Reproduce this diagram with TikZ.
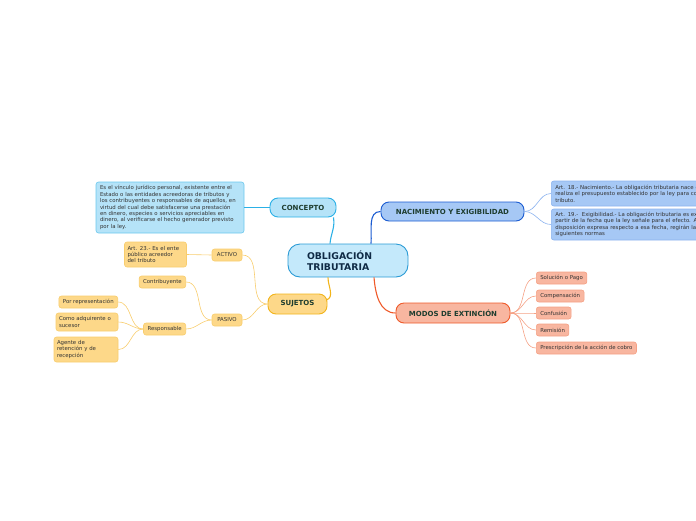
\documentclass[tikz,border=0pt]{standalone}
\usepackage{fontspec}
\setmainfont{DejaVu Sans}
\usetikzlibrary{calc}
\definecolor{cfill}{HTML}{C4E9FB}
\definecolor{cdraw}{HTML}{2A9BD5}
\definecolor{kfill}{HTML}{B5E3F8}
\definecolor{kdraw}{HTML}{2BB0E6}
\definecolor{nfill}{HTML}{A6C8F5}
\definecolor{ndraw}{HTML}{1B5CD1}
\definecolor{nsub}{HTML}{8CB3EF}
\definecolor{mfill}{HTML}{F8B6A0}
\definecolor{mdraw}{HTML}{EF5A2A}
\definecolor{msub}{HTML}{F5A185}
\definecolor{sfill}{HTML}{FDD889}
\definecolor{sdraw}{HTML}{F2B41B}
\definecolor{ssub}{HTML}{F8CD6D}
\definecolor{lbl}{HTML}{1E3D2F}
\definecolor{ctr}{HTML}{0F2A45}
\definecolor{txt}{HTML}{333333}
\tikzset{
  mainbox/.style={draw, line width=0.9pt, rounded corners=8pt, inner sep=0pt, text=lbl,
    font=\fontsize{7}{8.5}\selectfont\bfseries},
  smallbox/.style={draw, line width=0.6pt, rounded corners=2.5pt, inner ysep=0pt, inner xsep=4pt,
    text=txt, align=left, font=\fontsize{5.4}{6.4}\selectfont},
  conn/.style={line width=1.1pt},
  subconn/.style={line width=0.6pt}
}
\begin{document}
\begin{tikzpicture}[x=1pt,y=1pt]
\useasboundingbox (0,0) rectangle (696,-520);
\clip (0,0) rectangle (696,-520);

% central
\node[draw=cdraw, fill=cfill, line width=0.9pt, rounded corners=12pt, minimum width=120, minimum height=33,
  inner xsep=19pt, inner ysep=0pt, text width=82, align=left, text=ctr,
  font=\fontsize{9.3}{11}\selectfont\bfseries] (c) at (348,-260.5) {OBLIGACIÓN\\TRIBUTARIA};

% main branches
\node[mainbox, draw=kdraw, fill=kfill, minimum width=66, minimum height=19] (k) at (303,-207.5) {CONCEPTO};
\node[mainbox, draw=ndraw, fill=nfill, minimum width=143, minimum height=19] (n) at (452.5,-211.5) {NACIMIENTO Y EXIGIBILIDAD};
\node[mainbox, draw=mdraw, fill=mfill, minimum width=114, minimum height=20] (m) at (453,-313) {MODOS DE EXTINCIÓN};
\node[mainbox, draw=sdraw, fill=sfill, minimum width=59, minimum height=20] (s) at (297.5,-304) {SUJETOS};

% concepto text
\node[smallbox, draw=kdraw!70, fill=kfill, inner xsep=4pt, minimum height=51, text width=140] (def) at (170,-207.5)
{Es el vínculo jurídico personal, existente entre el\\Estado o las entidades acreedoras de tributos y\\los contribuyentes o responsables de aquellos, en\\virtud del cual debe satisfacerse una prestación\\en dinero, especies o servicios apreciables en\\dinero, al verificarse el hecho generador previsto\\por la ley.};

% nacimiento
\node[smallbox, draw=nsub, fill=nfill, anchor=west, minimum height=25, text width=220] (a18) at (551,-193.5)
{Art. 18.- Nacimiento.- La obligación tributaria nace cuando se\\realiza el presupuesto establecido por la ley para configurar el\\tributo.};
\node[smallbox, draw=nsub, fill=nfill, anchor=west, minimum height=31, text width=220] (a19) at (551,-224.5)
{Art. 19.-\ \ Exigibilidad.- La obligación tributaria es exigible a\\partir de la fecha que la ley señale para el efecto. A falta de\\disposición expresa respecto a esa fecha, regirán las\\siguientes normas};

% modos
\node[smallbox, draw=msub, fill=mfill, anchor=west, minimum height=12] (m1) at (536,-278) {Solución o Pago};
\node[smallbox, draw=msub, fill=mfill, anchor=west, minimum height=12] (m2) at (536,-296) {Compensación};
\node[smallbox, draw=msub, fill=mfill, anchor=west, minimum height=12] (m3) at (536,-313) {Confusión};
\node[smallbox, draw=msub, fill=mfill, anchor=west, minimum height=12] (m4) at (536,-330) {Remisión};
\node[smallbox, draw=msub, fill=mfill, anchor=west, minimum height=12] (m5) at (536,-348) {Prescripción de la acción de cobro};

% sujetos
\node[smallbox, draw=ssub, fill=sfill, minimum width=30, minimum height=12, align=center] (act) at (227,-255) {ACTIVO};
\node[smallbox, draw=ssub, fill=sfill, minimum width=30, minimum height=12, align=center] (pas) at (227,-320) {PASIVO};
\node[smallbox, draw=ssub, fill=sfill, inner xsep=3pt, minimum height=25, text width=56] (a23) at (155.5,-254.5) {Art. 23.- Es el ente\\público acreedor\\del tributo};
\node[smallbox, draw=ssub, fill=sfill, anchor=east, minimum height=12] (con) at (186,-282) {Contribuyente};
\node[smallbox, draw=ssub, fill=sfill, anchor=east, minimum height=12] (res) at (186,-329) {Responsable};
\node[smallbox, draw=ssub, fill=sfill, anchor=east, minimum height=12] (r1) at (118,-302) {Por representación};
\node[smallbox, draw=ssub, fill=sfill, inner xsep=3pt, minimum height=18, text width=56] (r2) at (87,-322) {Como adquirente o\\sucesor};
\node[smallbox, draw=ssub, fill=sfill, inner xsep=3pt, minimum height=25, text width=58] (r3) at (86,-349.5) {Agente de\\retención y de\\recepción};

% main connectors
\draw[conn, kdraw] ($(c.north)+(-18,0)$) to[out=85,in=-80] ($(k.south east)+(-3,0)$);
\draw[conn, ndraw] ($(c.north)+(23,0)$) to[out=85,in=180] (n.west);
\draw[conn, sdraw] ($(c.south)+(-20,0)$) to[out=-90,in=20] ($(s.east)+(-1,4)$);
\draw[conn, mdraw] ($(c.south)+(26,0)$) to[out=-85,in=180] (m.west);

% sub connectors
\draw[subconn, kdraw] (def.east) -- (k.west);
\foreach \t in {a18,a19} \draw[subconn, nsub] (n.east) to[out=0,in=180] (\t.west);
\foreach \t in {m1,m2,m3,m4,m5} \draw[subconn, msub] (m.east) to[out=0,in=180] (\t.west);
\foreach \t in {act,pas} \draw[subconn, ssub] (s.west) to[out=180,in=0] (\t.east);
\draw[subconn, ssub] (act.west) -- (a23.east);
\foreach \t in {con,res} \draw[subconn, ssub] (pas.west) to[out=180,in=0] (\t.east);
\foreach \t in {r1,r2,r3} \draw[subconn, ssub] (res.west) to[out=180,in=0] (\t.east);
\end{tikzpicture}
\end{document}
